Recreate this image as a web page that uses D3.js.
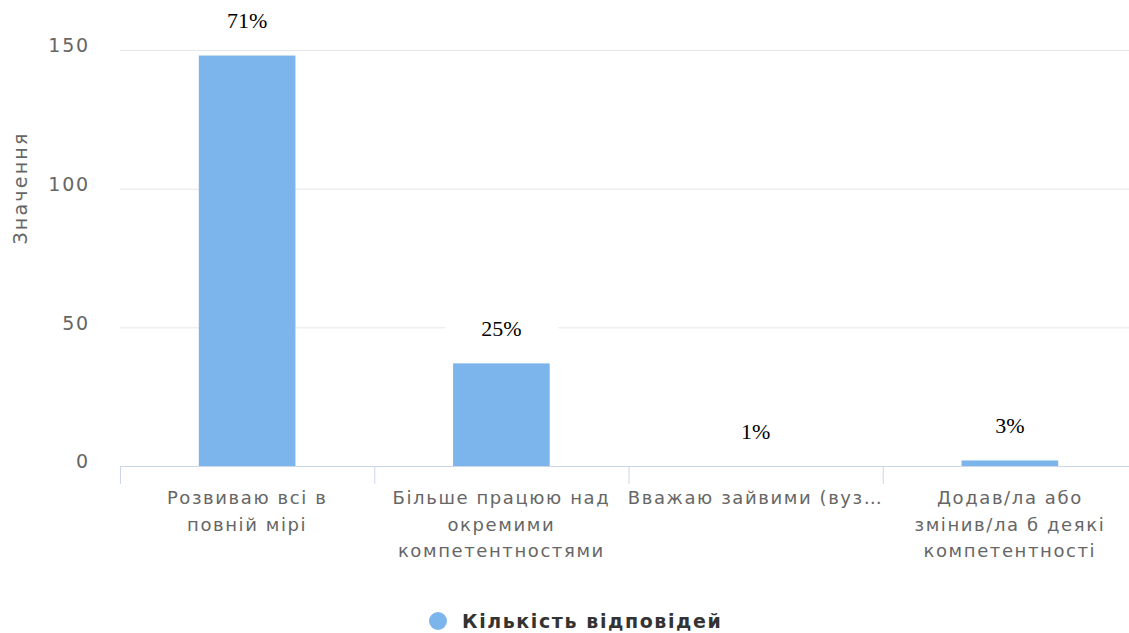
<!DOCTYPE html>
<html>
<head>
<meta charset="utf-8">
<script src="https://cdn.jsdelivr.net/npm/d3@7"></script>
<style>
  html, body { margin: 0; padding: 0; background: #fff; }
  svg { display: block; }
</style>
</head>
<body>
<svg id="chart" width="1129" height="633"></svg>
<script>
// Survey answers: how respondents work with competences
const categories = [
  ["Розвиваю всі в", "повній мірі"],
  ["Більше працюю над", "окремими", "компетентностями"],
  ["Вважаю зайвими (вуз…"],
  ["Додав/ла або", "змінив/ла б деякі", "компетентності"]
];
const responseCounts = [148, 37, 0, 2];
const shareLabels = ["71%", "25%", "1%", "3%"];
const yTicks = [0, 50, 100, 150];
const seriesName = "Кількість відповідей";
const axisTitle = "Значення";

const svg = d3.select("#chart");
const margin = { left: 120, top: 50, bottom: 466 };
const plotRight = 1137;

const x = d3.scaleBand()
  .domain(d3.range(categories.length))
  .range([margin.left, plotRight])
  .paddingInner(0.62)
  .paddingOuter(0.31);

const y = d3.scaleLinear()
  .domain([0, 150])
  .range([margin.bottom, margin.top]);

const step = x.step();
const font = "'DejaVu Sans', sans-serif";

// horizontal grid
svg.append("g")
  .selectAll("line")
  .data(yTicks.filter(d => d !== 0))
  .join("line")
  .attr("x1", margin.left).attr("x2", 1129)
  .attr("y1", d => y(d) + 0.5).attr("y2", d => y(d) + 0.5)
  .attr("stroke", "#e6e6e6").attr("stroke-width", 1);

// y axis labels
const yAxis = d3.axisLeft(y).tickValues(yTicks).tickSize(0).tickPadding(30);
svg.append("g")
  .attr("transform", `translate(${margin.left},0)`)
  .call(yAxis)
  .call(g => g.select(".domain").remove())
  .selectAll("text")
  .attr("font-family", font)
  .attr("font-size", 19)
  .attr("letter-spacing", 1.8)
  .attr("fill", "#666")
  .attr("dy", "0.1em");

// y axis title
svg.append("text")
  .attr("transform", "translate(27,188) rotate(-90)")
  .attr("text-anchor", "middle")
  .attr("font-family", font)
  .attr("font-size", 19)
  .attr("letter-spacing", 2.2)
  .attr("fill", "#666")
  .text(axisTitle);

// bars
svg.append("g")
  .selectAll("rect")
  .data(responseCounts)
  .join("rect")
  .attr("x", (d, i) => x(i))
  .attr("width", x.bandwidth())
  .attr("y", d => y(d))
  .attr("height", d => y(0) - y(d))
  .attr("fill", "#7cb5ec");

// x axis line and category boundary ticks
svg.append("line")
  .attr("x1", margin.left).attr("x2", 1129)
  .attr("y1", y(0) + 0.5).attr("y2", y(0) + 0.5)
  .attr("stroke", "#ccd6eb");
svg.append("g")
  .selectAll("line")
  .data(d3.range(categories.length))
  .join("line")
  .attr("x1", i => x(i) - x.paddingOuter() * step + 0.5)
  .attr("x2", i => x(i) - x.paddingOuter() * step + 0.5)
  .attr("y1", y(0)).attr("y2", y(0) + 18)
  .attr("stroke", "#ccd6eb");

// category labels
const catLabels = svg.append("g")
  .selectAll("text")
  .data(categories)
  .join("text")
  .attr("x", (d, i) => x(i) + x.bandwidth() / 2)
  .attr("y", y(0) + 38)
  .attr("text-anchor", "middle")
  .attr("font-family", font)
  .attr("font-size", 18)
  .attr("letter-spacing", 1.6)
  .attr("fill", "#666");
catLabels.selectAll("tspan")
  .data(d => d)
  .join("tspan")
  .attr("x", function () { return this.parentNode.getAttribute("x"); })
  .attr("dy", (d, i) => i === 0 ? 0 : 26.5)
  .text(d => d);

// percentage labels with white boxes
const share = svg.append("g")
  .selectAll("g")
  .data(responseCounts)
  .join("g")
  .attr("transform", (d, i) => `translate(${x(i) + x.bandwidth() / 2},${y(d) - 35})`);
share.append("rect")
  .attr("x", -56).attr("y", -18)
  .attr("width", 113).attr("height", 36)
  .attr("fill", "#fff");
share.append("text")
  .attr("text-anchor", "middle")
  .attr("dy", "0.35em")
  .attr("font-family", "'Liberation Serif', 'Times New Roman', serif")
  .attr("font-size", 22)
  .attr("fill", "#000")
  .text((d, i) => shareLabels[i]);

// legend
const legend = svg.append("g").attr("transform", "translate(438,621)");
legend.append("circle").attr("r", 9).attr("fill", "#7cb5ec");
legend.append("text")
  .attr("x", 24)
  .attr("dy", "0.35em")
  .attr("font-family", font)
  .attr("font-size", 19)
  .attr("font-weight", "bold")
  .attr("letter-spacing", 1.6)
  .attr("fill", "#333")
  .text(seriesName);
</script>
</body>
</html>
